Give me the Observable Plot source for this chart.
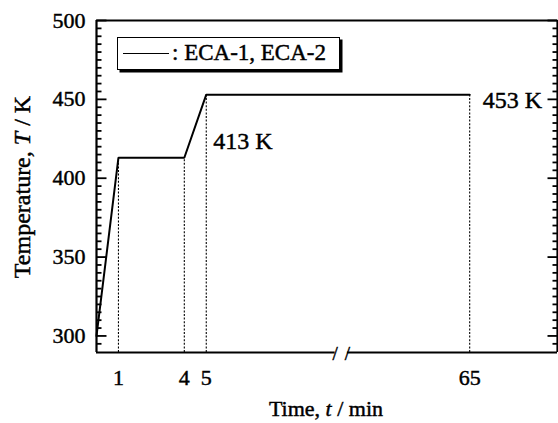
<!DOCTYPE html>
<html><head><meta charset="utf-8">
<script src="https://cdn.jsdelivr.net/npm/d3@7"></script>
<script src="https://cdn.jsdelivr.net/npm/@observablehq/plot@0.6"></script>
<style>
body{margin:0;background:#fff;}
#chart{position:relative;width:558px;height:423px;font-family:"Liberation Serif","Times New Roman",serif;color:#000;}
#chart svg{position:absolute;left:0;top:0;}
#chart svg text{stroke:#000;stroke-width:0.45px;}
#chart div{-webkit-text-stroke:0.45px #000;}
.legend{position:absolute;left:117px;top:37px;width:221px;height:31px;border:1.7px solid #000;box-shadow:2.5px 2.5px 0 #000;background:#fff;font-size:23px;}
.legend .swatch{position:absolute;left:5px;top:15px;width:46px;border-top:1.7px solid #000;}
.legend .lab{position:absolute;left:54px;top:1px;white-space:nowrap;line-height:28px;}
.xtitle{position:absolute;left:326px;top:409px;transform:translate(-50%,-50%);font-size:22px;white-space:nowrap;}
.ytitle{position:absolute;left:22px;top:187px;transform:translate(-50%,-50%) rotate(-90deg);font-size:24px;white-space:nowrap;}
</style></head>
<body>
<div id="chart"></div>
<script>
// ---- data ----
const times = [0, 1, 4, 5, 65];            // min
const temps = [300, 413, 413, 453, 453];   // K
const guideTimes = [1, 4, 5, 65];
const guideTemps = [413, 413, 453, 453];
const xTicks = [1, 4, 5, 65];
const yTicks = [300, 350, 400, 450, 500];
const yMinorTicks = d3.range(295, 500, 5).filter(v => v % 50 !== 0);
const plateauLabels = ["413 K", "453 K"];
const plateauTimes = [5, 65];
const plateauTemps = [413, 453];
const seriesName = ": ECA-1, ECA-2";
const breakStart = 11.15, breakEnd = 59.15; // omitted stretch of the time axis (min)
const tMax = 69;
const yMin = 289.5, yMax = 500;

// broken time axis: compress the omitted stretch
const xp = t => t <= breakStart ? t : t - (breakEnd - breakStart);
const xDomain = [0, xp(tMax)];
const pts = times.map((t, i) => ({x: xp(t), y: temps[i]}));
const guides = guideTimes.map((t, i) => ({x: xp(t), y: guideTemps[i]}));
const xTickPos = xTicks.map(xp);

const W = 558, H = 423, mL = 96, mR = 1, mT = 20, mB = 71;
const plotW = W - mL - mR;
const ink = "#000";
const font = "Liberation Serif, Times New Roman, serif";
const gapHalf = 0.28;
const pxToX = px => px * (xDomain[1] - xDomain[0]) / plotW;
const minorLen = pxToX(5), majorLen = pxToX(10);

// inward tick segments on both side frames
const tickSegs = [
  ...yMinorTicks.map(v => ({y: v, x1: xDomain[0], x2: xDomain[0] + minorLen})),
  ...yTicks.map(v => ({y: v, x1: xDomain[0], x2: xDomain[0] + majorLen})),
  ...yMinorTicks.map(v => ({y: v, x1: xDomain[1] - minorLen, x2: xDomain[1]})),
  ...yTicks.map(v => ({y: v, x1: xDomain[1] - majorLen, x2: xDomain[1]}))
];

const svg = Plot.plot({
  width: W, height: H,
  marginLeft: mL, marginRight: mR, marginTop: mT, marginBottom: mB,
  style: {fontFamily: font, color: ink, background: "#fff"},
  x: {domain: xDomain, axis: null},
  y: {domain: [yMin, yMax], axis: null},
  marks: [
    Plot.ruleX(guides, {x: "x", y1: yMin, y2: "y", stroke: ink, strokeWidth: 1.1, strokeDasharray: "2,1.6"}),
    Plot.line(pts, {x: "x", y: "y", stroke: ink, strokeWidth: 2, strokeLinejoin: "miter"}),
    Plot.ruleX(xDomain, {stroke: ink, strokeWidth: 2.2}),
    Plot.ruleY([yMax], {stroke: ink, strokeWidth: 2.2}),
    Plot.ruleY([{x1: xDomain[0], x2: xp(breakStart) - gapHalf}, {x1: xp(breakStart) + gapHalf, x2: xDomain[1]}],
      {y: yMin, x1: "x1", x2: "x2", stroke: ink, strokeWidth: 2.2}),
    Plot.text([xp(breakStart) - gapHalf, xp(breakStart) + gapHalf], {x: d => d, y: yMin, text: () => "/", fontSize: 19, fill: ink, dy: 1}),
    Plot.link(tickSegs, {x1: "x1", x2: "x2", y1: "y", y2: "y", stroke: ink, strokeWidth: 1.8}),
    Plot.axisY(yTicks, {tickSize: 0, tickPadding: 11, fontSize: 22, label: null}),
    Plot.axisX(xTickPos, {tickSize: 0, tickPadding: 17, fontSize: 22, label: null,
      tickFormat: d => String(xTicks[xTickPos.indexOf(d)])}),
    Plot.text([plateauLabels[0]], {x: xp(plateauTimes[0]), y: plateauTemps[0], text: d => d, textAnchor: "start", dx: 7, dy: -16, fontSize: 24, fill: ink}),
    Plot.text([plateauLabels[1]], {x: xp(plateauTimes[1]), y: plateauTemps[1], text: d => d, textAnchor: "start", dx: 13, dy: 6, fontSize: 24, fill: ink})
  ]
});

const chart = document.getElementById("chart");
chart.appendChild(svg);

const legend = document.createElement("div");
legend.className = "legend";
legend.innerHTML = `<div class="swatch"></div><div class="lab"></div>`;
legend.querySelector(".lab").textContent = seriesName;
chart.appendChild(legend);

const xt = document.createElement("div");
xt.className = "xtitle";
xt.innerHTML = "Time, <i>t</i> / min";
chart.appendChild(xt);

const yt = document.createElement("div");
yt.className = "ytitle";
yt.innerHTML = "Temperature, <i>T</i> / K";
chart.appendChild(yt);
</script>
</body></html>
